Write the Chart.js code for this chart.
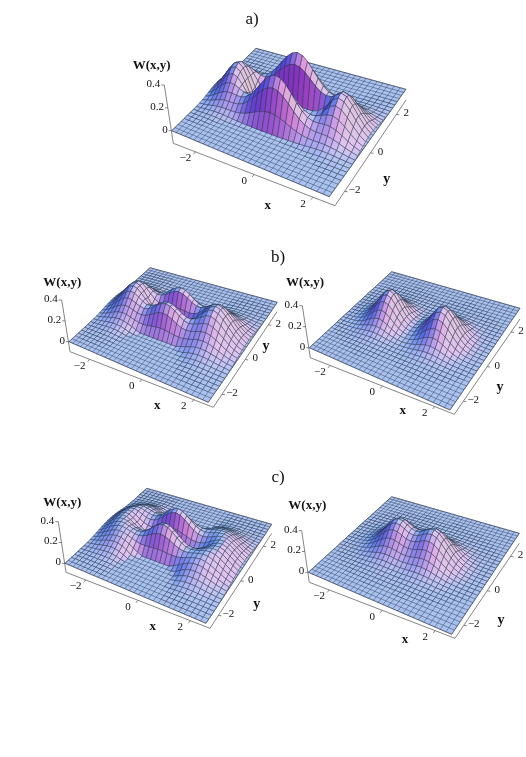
<!DOCTYPE html>
<html>
<head>
<meta charset="utf-8">
<script src="https://cdn.jsdelivr.net/npm/chart.js@4"></script>
<style>
html, body { margin: 0; background: #fff; }
canvas { display: block; filter: blur(0.4px); }
</style>
</head>
<body>
<canvas id="wigner_chart" width="526" height="757"></canvas>
<script>
// slices of W(x,y), |x| and |y| = 0, 0.183, ... 2.75
// x slices are in thousandths, y slices are relative to them
const aLobeX = [0,1,2,6,17,41,84,147,218,277,300,277,218,147,84,41];
const aLobeY = [1,.94,.79,.58,.385,.225,.117,.054,.022,.008,.003,.001];
const aFringeX = [400,385,345,286,220,158,105,65,37,20,10,4,2];
const aFringeY = [-1.2,-.9,-.1,.8,1,.8,.35,0,-.2,-.22,-.15,-.08,-.04,-.02];

const b1LobeX = [4,6,15,32,61,104,158,212,254,270,254,212,158,104,61,32];
const b1LobeY = [1,.96,.85,.69,.515,.354,.224,.131,.07,.035,.016,.007,.003,.001];
const b1FringeX = [250,237,203,156,108,67,38,19,9,4,1];
const b1FringeY = [-.1,.45,.95,1,.75,.3,-.15,-.4,-.45,-.35,-.2,-.1,-.05,-.02];

const b2LobeX = [32,44,80,137,204,259,280,259,204,137,78,38,16,6,2];
const b2LobeY = [1,.94,.79,.58,.385,.225,.117,.054,.022,.008,.003,.001];

const c1LobeX = [0,0,0,1,3,8,19,39,68,102,129,140,129,102,68,39];
const c1LobeY = [1,.96,.85,.69,.515,.354,.224,.131,.07,.035,.016,.007,.003,.001];
const c1ArcX = [4,5,12,23,39,58,79,94,100,94,79,58,39,23,12,5];
const c1ArcY = [.3,.38,.6,.82,.97,1,.92,.72,.5,.3,.15,.07,.03,.01];
const c1FringeX = [260,247,211,162,112,70,39,20,9,4,1];
const c1FringeY = [-.1,.45,.95,1,.75,.3,-.15,-.45,-.55,-.45,-.28,-.14,-.06,-.02];

const c2LobeX = [208,218,244,269,276,257,213,158,104,61,32,15,6,2,1];
const c2LobeY = [1,.94,.79,.58,.385,.225,.117,.054,.022,.008,.003,.001];

const xTicks = [-2, 0, 2];
const yTicks = [-2, 0, 2];
const zTicks = [0, 0.2, 0.4];

const gridHalf = 15;
const gridEdge = 2.75;
const gridStep = gridEdge / gridHalf;
const slopeGain = 3;

const panels = [
    {
        terms: [[aLobeX, aLobeY], [aFringeX, aFringeY]],
        L: [171.7, 130.7], F: [329.3, 196.7], R: [406, 89.3], B: [256, 48.3],
        L2: [173.3, 143.3], F2: [335, 205.7], R2: [406, 100], top: [164.3, 85],
        xName: [267.7, 205.7], yName: [386.7, 179], wName: [151.7, 65.7]
    },
    {
        terms: [[b1LobeX, b1LobeY], [b1FringeX, b1FringeY]],
        L: [69, 341.7], F: [208.3, 402.3], R: [277.3, 302.3], B: [150, 267.7],
        L2: [70, 351.7], F2: [213.3, 407.3], R2: [277, 311.7], top: [61.7, 300],
        xName: [157.3, 405.7], yName: [266, 346], wName: [62.3, 282.7]
    },
    {
        terms: [[b2LobeX, b2LobeY]],
        L: [309.3, 347.7], F: [450, 410], R: [520, 308.3], B: [391.7, 271.7],
        L2: [310.3, 357.7], F2: [454.3, 414.3], R2: [520, 319], top: [302.3, 305.7],
        xName: [402.7, 411], yName: [500, 387.3], wName: [305, 282.7]
    },
    {
        terms: [[c1LobeX, c1LobeY], [c1ArcX, c1ArcY], [c1FringeX, c1FringeY]],
        L: [65, 563.3], F: [206, 623.3], R: [271.7, 524.3], B: [146.7, 488.3],
        L2: [66, 572.3], F2: [210, 628.3], R2: [271.7, 533.3], top: [58.3, 521.7],
        xName: [152.7, 626.7], yName: [256.7, 604.3], wName: [62.3, 502.7]
    },
    {
        terms: [[c2LobeX, c2LobeY]],
        L: [308.3, 572.3], F: [451.7, 634.3], R: [519.3, 533.3], B: [391.7, 496.7],
        L2: [309.3, 582.3], F2: [455, 638.3], R2: [519.3, 543.3], top: [301.7, 530.7],
        xName: [405, 640], yName: [501, 620.7], wName: [307.3, 505.7]
    }
];

const titles = [['a)', 252, 20], ['b)', 278, 258], ['c)', 278, 478]];

// square to quad, same projective map for the whole floor of a panel
const makeProjection = (p) => {
    const [x0, y0] = p.L, [x1, y1] = p.F, [x2, y2] = p.R, [x3, y3] = p.B;
    const dx1 = x1 - x2, dx2 = x3 - x2, sx = x0 - x1 + x2 - x3;
    const dy1 = y1 - y2, dy2 = y3 - y2, sy = y0 - y1 + y2 - y3;
    const det = dx1 * dy2 - dx2 * dy1;
    const g = (sx * dy2 - dx2 * sy) / det;
    const h = (dx1 * sy - sx * dy1) / det;
    const zLen = Math.abs(p.top[1] - p.L[1]);
    return (u, v, w) => {
        const den = g * u + h * v + 1;
        return {
            x: ((x1 - x0 + g * x1) * u + (x3 - x0 + h * x3) * v + x0) / den,
            y: ((y1 - y0 + g * y1) * u + (y3 - y0 + h * y3) * v + y0) / den - (w / 0.4) * zLen / den
        };
    };
};

const surfaceAt = (terms, i, j) => {
    let w = 0;
    terms.forEach(([sx, sy]) => {
        w += (sx[Math.abs(i - gridHalf)] || 0) * (sy[Math.abs(j - gridHalf)] || 0) / 1000;
    });
    return Math.max(0, w);
};

// three coloured lights in view space, viewpoint {1.3,-2.4,2}
const viewR = [0.879, 0.476, 0];
const viewU = [-0.282, 0.52, 0.808];
const viewW = [0.384, -0.709, 0.591];
const dot3 = (a, b) => a[0] * b[0] + a[1] * b[1] + a[2] * b[2];
const shade = (dzdx, dzdy) => {
    const len = Math.hypot(dzdx, dzdy, 1);
    const n = [-dzdx / len, -dzdy / len, 1 / len];
    const v = [dot3(n, viewR), dot3(n, viewU), dot3(n, viewW)];
    const red = Math.max(0, 0.707 * (v[0] + v[2]));
    const green = Math.max(0, 0.577 * (v[0] + v[1] + v[2]));
    const blue = Math.max(0, 0.707 * (v[1] + v[2]));
    const c = [
        Math.min(0.88, 0.32 + 0.82 * red),
        Math.min(0.77, 0.2 + 0.7 * green),
        0.65 + 0.3 * blue
    ];
    return `rgb(${c.map((k) => Math.round(Math.min(1, k) * 255)).join(',')})`;
};

const meshColor = 'rgba(45,50,75,0.65)';
const axisColor = '#666';

const lineSet = (points, color, width) => ({
    data: points,
    showLine: true,
    fill: false,
    borderColor: color,
    borderWidth: width,
    pointRadius: 0
});

const panelDatasets = (p) => {
    const out = [];
    const project = makeProjection(p);
    const n = gridHalf * 2;

    out.push(lineSet([{x: p.top[0], y: p.top[1]}, {x: p.L2[0], y: p.L2[1]}, {x: p.F2[0], y: p.F2[1]}, {x: p.R2[0], y: p.R2[1]}], axisColor, 0.8));

    const corners = [p.L, p.F, p.R, p.B, p.L].map(([x, y]) => ({x, y}));
    out.push({...lineSet(corners, meshColor, 0.7), fill: 'shape', backgroundColor: shade(0, 0)});

    // floor mesh, broken with NaN between the lines
    const floor = [];
    for (let k = 0; k <= n; k++) {
        floor.push(project(k / n, 0, 0), project(k / n, 1, 0), {x: NaN, y: NaN});
        floor.push(project(0, k / n, 0), project(1, k / n, 0), {x: NaN, y: NaN});
    }
    out.push(lineSet(floor, meshColor, 0.7));

    // raised cells, far to near
    for (let j = n - 1; j >= 0; j--) {
        for (let i = 0; i < n; i++) {
            const w00 = surfaceAt(p.terms, i, j), w10 = surfaceAt(p.terms, i + 1, j);
            const w11 = surfaceAt(p.terms, i + 1, j + 1), w01 = surfaceAt(p.terms, i, j + 1);
            if (w00 + w10 + w11 + w01 < 0.0005) continue;
            const box = slopeGain / gridStep / 2;
            const pts = [
                project(i / n, j / n, w00), project((i + 1) / n, j / n, w10),
                project((i + 1) / n, (j + 1) / n, w11), project(i / n, (j + 1) / n, w01),
                project(i / n, j / n, w00)
            ];
            out.push({
                ...lineSet(pts, meshColor, 0.7),
                fill: 'shape',
                backgroundColor: shade((w10 + w11 - w00 - w01) * box, (w01 + w11 - w00 - w10) * box)
            });
        }
    }
    return out;
};

const labelsPlugin = {
    id: 'wignerLabels',
    afterDraw(chart) {
        const {ctx, scales} = chart;
        const text = (s, x, y, font, align) => {
            ctx.font = font;
            ctx.textAlign = align || 'center';
            ctx.textBaseline = 'middle';
            ctx.fillStyle = '#111';
            ctx.fillText(s, scales.x.getPixelForValue(x), scales.y.getPixelForValue(y));
        };
        const serif = '"Liberation Serif", serif';
        const tick = (v) => String(v).replace('-', '\u2212');
        ctx.save();
        titles.forEach(([s, x, y]) => text(s, x, y, `17px ${serif}`));
        panels.forEach((p) => {
            const ctxLine = (a, b) => {
                ctx.strokeStyle = axisColor;
                ctx.lineWidth = 0.8;
                ctx.beginPath();
                ctx.moveTo(a[0], a[1]);
                ctx.lineTo(b[0], b[1]);
                ctx.stroke();
            };
            xTicks.forEach((v) => {
                const t = (v + gridEdge) / (2 * gridEdge);
                const x = p.L2[0] + t * (p.F2[0] - p.L2[0]), y = p.L2[1] + t * (p.F2[1] - p.L2[1]);
                ctxLine([x, y], [x - 2, y + 2.5]);
                text(tick(v), x - 10, y + 6.5, `11px ${serif}`);
            });
            yTicks.forEach((v) => {
                const t = (v + gridEdge) / (2 * gridEdge);
                const x = p.F2[0] + t * (p.R2[0] - p.F2[0]), y = p.F2[1] + t * (p.R2[1] - p.F2[1]);
                ctxLine([x, y], [x + 3, y + 0.5]);
                text(tick(v), x + 10, y - 1, `11px ${serif}`);
            });
            zTicks.forEach((v) => {
                const t = v / 0.4;
                const x = p.L[0] + t * (p.top[0] - p.L[0]), y = p.L[1] + t * (p.top[1] - p.L[1]);
                ctxLine([x, y], [x - 3, y]);
                text(String(v), x - 4, y - 1, `11px ${serif}`, 'right');
            });
            text('x', p.xName[0], p.xName[1], `bold 13px ${serif}`);
            text('y', p.yName[0], p.yName[1], `bold 14px ${serif}`);
            text('W(x,y)', p.wName[0], p.wName[1], `bold 13px ${serif}`);
        });
        ctx.restore();
    }
};

const painted = [];
panels.forEach((p) => painted.push(...panelDatasets(p)));

// Chart.js paints the first dataset last
new Chart(document.getElementById('wigner_chart'), {
    type: 'scatter',
    data: {datasets: painted.reverse()},
    plugins: [labelsPlugin],
    options: {
        responsive: false,
        animation: false,
        events: [],
        layout: {padding: 0},
        plugins: {legend: {display: false}, tooltip: {enabled: false}},
        scales: {
            x: {type: 'linear', display: false, min: 0, max: 526},
            y: {type: 'linear', display: false, min: 0, max: 757, reverse: true}
        }
    }
});
</script>
</body>
</html>
